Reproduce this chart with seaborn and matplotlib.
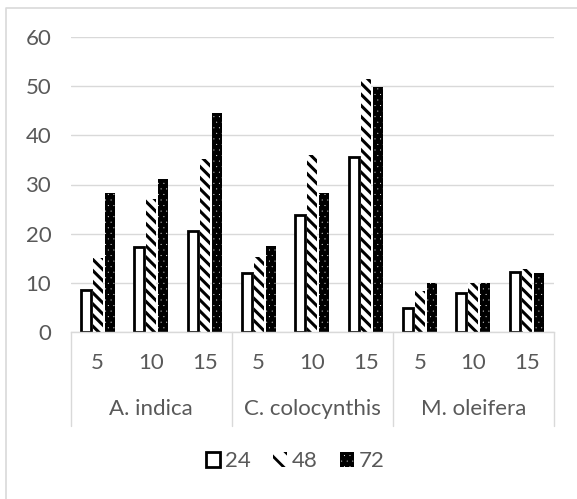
import matplotlib
matplotlib.use("Agg")
import matplotlib.pyplot as plt
import seaborn as sns
import pandas as pd
from matplotlib.patches import Patch
from matplotlib.lines import Line2D
import matplotlib.transforms as mtransforms

species = ["A. indica", "C. colocynthis", "M. oleifera"]
doses = ["5", "10", "15"]
times = ["24", "48", "72"]
v24 = [8.5, 17.2, 20.6, 12.1, 23.8, 35.6, 4.9, 7.9, 12.3]
v48 = [15.0, 27.0, 35.1, 15.2, 36.1, 51.4, 8.4, 9.9, 12.9]
v72 = [28.3, 31.1, 44.5, 17.5, 28.3, 49.9, 9.9, 9.9, 11.9]

keys = [f"{s}|{d}" for s in species for d in doses]
rows = []
for t, vals in zip(times, [v24, v48, v72]):
    for k, v in zip(keys, vals):
        rows.append({"key": k, "time": t, "value": v})
df = pd.DataFrame(rows)

sns.set_style("white")
plt.rcParams['font.family'] = ['Lato', 'DejaVu Sans']
plt.rcParams['hatch.linewidth'] = 2.0

GRAY = "#595959"
LINE = "#d9d9d9"
FS = 16

fig = plt.figure(figsize=(5.77, 4.99), dpi=100)
W, H = 577, 499
ax = fig.add_axes([70.7 / W, 1 - 332 / H, (554 - 70.7) / W, 295 / H])
sns.barplot(data=df, x="key", y="value", hue="time", order=keys, hue_order=times,
            width=0.67, gap=0.17, palette=["white", "white", "black"],
            legend=False, errorbar=None, ax=ax)

def set_hlw(p, lw):
    if hasattr(p, "set_hatch_linewidth"):
        p.set_hatch_linewidth(lw)

for p in ax.containers[0]:
    p.set_facecolor("white"); p.set_edgecolor("black"); p.set_linewidth(2.0)
for p in ax.containers[1]:
    p.set_facecolor("white"); p.set_edgecolor("black"); p.set_linewidth(0)
    p.set_hatch("\\\\\\"); set_hlw(p, 2.2)
for p in ax.containers[2]:
    p.set_facecolor("black"); p.set_edgecolor("white"); p.set_linewidth(0)
    p.set_hatch("..."); set_hlw(p, 0.0)

ax.set_xlim(-0.5, 8.5)
ax.set_ylim(0, 60)
ax.set_yticks(range(0, 61, 10))
ax.set_xticks([])
ax.set_xlabel(""); ax.set_ylabel("")
ax.set_axisbelow(True)
ax.yaxis.grid(True, color=LINE, lw=1)
for s in ["top", "right", "left"]:
    ax.spines[s].set_visible(False)
ax.spines["bottom"].set_color(LINE)
ax.spines["bottom"].set_linewidth(1)
ax.tick_params(axis="y", length=0, pad=14, labelsize=FS, labelcolor=GRAY)

trans = mtransforms.blended_transform_factory(ax.transData, ax.transAxes)
for xb in [-0.5, 2.5, 5.5, 8.5]:
    ax.plot([xb, xb], [0, -94 / 295], color=LINE, lw=1, transform=trans, clip_on=False)
for i, k in enumerate(keys):
    ax.text(i, -31 / 295, k.split("|")[1], transform=trans, ha="center", va="center",
            fontsize=FS, color=GRAY)
for j, s in enumerate(species):
    ax.text(3 * j + 1, -77 / 295, s, transform=trans, ha="center", va="center",
            fontsize=FS, color=GRAY)

h24 = Patch(facecolor="white", edgecolor="black", linewidth=2.0)
h48 = Patch(facecolor="white", edgecolor="black", linewidth=0, hatch="\\\\")
h72 = Patch(facecolor="black", edgecolor="white", linewidth=0, hatch="...")
leg = fig.legend([h24, h48, h72], times, loc="center", bbox_to_anchor=(295 / W, 1 - 461 / H),
                 ncol=3, frameon=False, fontsize=FS, labelcolor=GRAY,
                 handlelength=0.65, handleheight=0.65, handletextpad=0.2, columnspacing=1.0)
for h in leg.legend_handles:
    if h.get_hatch() == "...":
        set_hlw(h, 0.0)

fig.add_artist(Line2D([6 / W, 6 / W, 1.0], [0, 1 - 8 / H, 1 - 8 / H], transform=fig.transFigure,
                      color=LINE, lw=1.2))

fig.savefig("out.png", dpi=100)
